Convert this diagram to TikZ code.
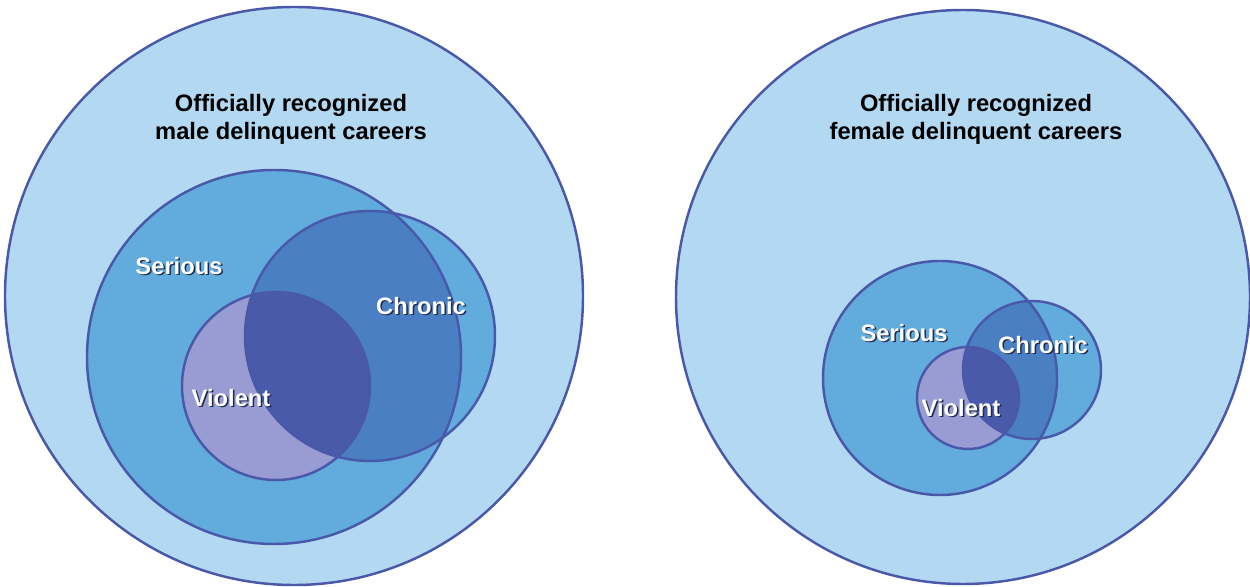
\documentclass[tikz,border=0pt]{standalone}
\usepackage{fontspec}
\setmainfont{Liberation Sans}
\usetikzlibrary{calc}
\definecolor{vnout}{HTML}{B3D9F2}
\definecolor{vnser}{HTML}{62ABDD}
\definecolor{vnchr}{HTML}{4A80C3}
\definecolor{vnvio}{HTML}{989CD2}
\definecolor{vnboth}{HTML}{4A5AAA}
\definecolor{vnedge}{HTML}{4A58AA}
\definecolor{vnshade}{HTML}{1E2A50}

\begin{document}
\begin{tikzpicture}[
        edge/.style={draw=vnedge, line width=1.4pt},
        ttl/.style={font=\fontsize{13.5}{16}\selectfont\bfseries, align=center, text=black},
        setlbl/.style={font=\fontsize{13.5}{16}\selectfont\bfseries, text=white},
        setshadow/.style={font=\fontsize{13.5}{16}\selectfont\bfseries, text=vnshade},
      ]
      \useasboundingbox (0,0) rectangle (25,11.72);

      % ---------- male careers ----------
      \fill[vnout] (5.88,5.80) circle (5.78);
      \fill[vnser] (5.48,4.58) circle (3.74);
      \fill[vnser] (7.40,5.00) circle (2.50);
      \begin{scope}
        \clip (5.48,4.58) circle (3.74);
        \fill[vnchr] (7.40,5.00) circle (2.50);
      \end{scope}
      \fill[vnvio] (5.52,4.00) circle (1.88);
      \begin{scope}
        \clip (7.40,5.00) circle (2.50);
        \fill[vnboth] (5.52,4.00) circle (1.88);
      \end{scope}

      % outlines on top
      \draw[edge] (5.88,5.80) circle (5.78);
      \draw[edge] (5.48,4.58) circle (3.74);
      \draw[edge] (7.40,5.00) circle (2.50);
      \draw[edge] (5.52,4.00) circle (1.88);

      \node[ttl] (titleM) at (5.82,9.34) {Officially recognized\\male delinquent careers};

      \node[setshadow] (seriousM-sh) at (3.61,6.37) {Serious};
      \node[setlbl] (seriousM) at (3.58,6.40) {Serious};
      \node[setshadow] (chronicM-sh) at (8.45,5.57) {Chronic};
      \node[setlbl] (chronicM) at (8.42,5.60) {Chronic};
      \node[setshadow] (violentM-sh) at (4.65,3.73) {Violent};
      \node[setlbl] (violentM) at (4.62,3.76) {Violent};

      % ---------- female careers ----------
      \fill[vnout] (19.26,5.78) circle (5.74);
      \fill[vnser] (18.80,4.16) circle (2.34);
      \fill[vnser] (20.64,4.32) circle (1.38);
      \begin{scope}
        \clip (18.80,4.16) circle (2.34);
        \fill[vnchr] (20.64,4.32) circle (1.38);
      \end{scope}
      \fill[vnvio] (19.36,3.76) circle (1.02);
      \begin{scope}
        \clip (20.64,4.32) circle (1.38);
        \fill[vnboth] (19.36,3.76) circle (1.02);
      \end{scope}

      \draw[edge] (19.26,5.78) circle (5.74);
      \draw[edge] (18.80,4.16) circle (2.34);
      \draw[edge] (20.64,4.32) circle (1.38);
      \draw[edge] (19.36,3.76) circle (1.02);

      \node[ttl] (titleF) at (19.52,9.34) {Officially recognized\\female delinquent careers};

      \node[setshadow] (seriousF-sh) at (18.11,5.03) {Serious};
      \node[setlbl] (seriousF) at (18.08,5.06) {Serious};
      \node[setshadow] (chronicF-sh) at (20.89,4.79) {Chronic};
      \node[setlbl] (chronicF) at (20.86,4.82) {Chronic};
      \node[setshadow] (violentF-sh) at (19.25,3.53) {Violent};
      \node[setlbl] (violentF) at (19.22,3.56) {Violent};
    \end{tikzpicture}
\end{document}
